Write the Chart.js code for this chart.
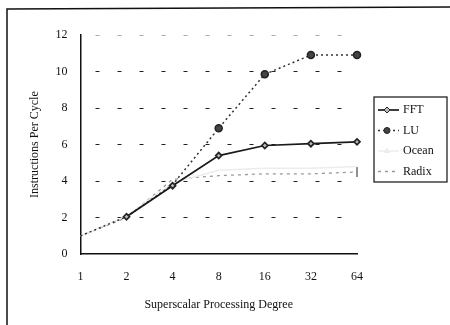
<!DOCTYPE html>
<html>
<head>
<meta charset="utf-8">
<script src="https://cdn.jsdelivr.net/npm/chart.js@4.4.1/dist/chart.umd.min.js"></script>
<style>
  html, body { margin: 0; padding: 0; background: #fff; }
  #wrap { width: 450px; height: 325px; position: relative; }
</style>
</head>
<body>
<div id="wrap"><canvas id="ipcChart"></canvas></div>
<script>
// values
const degrees = ["1", "2", "4", "8", "16", "32", "64"];
const fftIpc = [null, 2.05, 3.75, 5.4, 5.95, 6.05, 6.15];
const luIpc = [1, 2.05, 3.8, 6.9, 9.85, 10.9, 10.9];
const oceanIpc = [1, 2.1, 3.9, 4.6, 4.7, 4.7, 4.8];
const radixIpc = [1, 2, 4.1, 4.3, 4.4, 4.4, 4.5];
const yTicks = [0, 2, 4, 6, 8, 10, 12];

const serif = "'Liberation Serif', 'DejaVu Serif', serif";
const ink = "#111";

// scanned frame: only the top and left edges show
const framePlugin = {
  id: "frame",
  beforeDraw(chart) {
    const ctx = chart.ctx;
    ctx.save();
    ctx.fillStyle = "#fff";
    ctx.fillRect(0, 0, chart.width, chart.height);
    ctx.strokeStyle = "#111";
    ctx.lineWidth = 1.5;
    ctx.beginPath();
    ctx.moveTo(7, chart.height);
    ctx.lineTo(7, 9);
    ctx.lineTo(chart.width, 7);
    ctx.stroke();
    ctx.restore();
  }
};

// boxed legend to the right of the plot, line sample + marker
const boxLegendPlugin = {
  id: "boxLegend",
  afterDraw(chart) {
    const ctx = chart.ctx;
    const area = chart.chartArea;
    const left = area.right + 17;
    const top = 97;
    const w = 73, h = 85;
    ctx.save();
    ctx.strokeStyle = "#111";
    ctx.lineWidth = 1.2;
    ctx.strokeRect(left, top, w, h);
    ctx.font = "12px " + serif;
    ctx.textBaseline = "middle";
    chart.data.datasets.forEach((ds, i) => {
      const y = top + 13 + i * 20.5;
      ctx.strokeStyle = ds.borderColor;
      ctx.lineWidth = ds.borderWidth;
      ctx.setLineDash(ds.borderDash || []);
      ctx.beginPath();
      ctx.moveTo(left + 4, y);
      ctx.lineTo(left + 25, y);
      ctx.stroke();
      ctx.setLineDash([]);
      if (ds.label !== "Radix") {
        ctx.fillStyle = ds.pointBackgroundColor;
        ctx.strokeStyle = ds.pointBorderColor;
        ctx.lineWidth = 1;
        Chart.helpers.drawPoint(ctx, { pointStyle: ds.pointStyle, radius: 3, borderWidth: 1 }, left + 13, y);
      }
      ctx.fillStyle = ink;
      ctx.fillText(ds.label, left + 29, y);
    });
    ctx.restore();
  }
};

new Chart(document.getElementById("ipcChart"), {
  type: "line",
  data: {
    labels: degrees,
    datasets: [
      {
        label: "FFT",
        data: fftIpc,
        borderColor: "#1a1a1a",
        borderWidth: 1.7,
        pointStyle: "rectRot",
        pointRadius: 3,
        pointBackgroundColor: "#bbb",
        pointBorderColor: "#222",
        tension: 0
      },
      {
        label: "LU",
        data: luIpc,
        borderColor: "#333",
        borderWidth: 1.5,
        borderDash: [2, 3],
        pointStyle: "circle",
        pointRadius: [0, 0, 0, 3.5, 3.5, 3.5, 3.5],
        pointBackgroundColor: "#444",
        pointBorderColor: "#222",
        tension: 0
      },
      {
        label: "Ocean",
        data: oceanIpc,
        borderColor: "#ececec",
        borderWidth: 1.5,
        pointStyle: "triangle",
        pointRadius: 0,
        pointBackgroundColor: "#ececec",
        pointBorderColor: "#ececec",
        tension: 0
      },
      {
        label: "Radix",
        data: radixIpc,
        borderColor: "#999",
        borderWidth: 1.3,
        borderDash: [3, 4],
        pointStyle: "line",
        pointRotation: 90,
        pointRadius: [0, 0, 0, 0, 0, 0, 5],
        pointBackgroundColor: "#777",
        pointBorderColor: "#555",
        tension: 0
      }
    ]
  },
  options: {
    responsive: true,
    maintainAspectRatio: false,
    animation: false,
    layout: { padding: { top: 35, left: 26, right: 93, bottom: 9 } },
    plugins: {
      legend: { display: false },
      tooltip: { enabled: false }
    },
    scales: {
      x: {
        offset: false,
        grid: { display: false },
        border: { display: true, color: "#111", width: 1.5 },
        ticks: { color: ink, font: { family: serif, size: 12 }, padding: 7 },
        title: {
          display: true,
          text: "Superscalar Processing Degree",
          color: ink,
          font: { family: serif, size: 12 },
          padding: { top: 7 }
        }
      },
      y: {
        min: 0,
        max: 12,
        afterBuildTicks(axis) {
          axis.ticks = yTicks.map((v) => ({ value: v }));
        },
        grid: {
          color: (c) => (c.tick.value === 0 ? "rgba(0,0,0,0)" : c.tick.value === 12 ? "#aaa" : "#222"),
          lineWidth: 1,
          drawTicks: false
        },
        border: { display: true, color: "#111", width: 1.5, dash: [4, 18], dashOffset: -14 },
        ticks: { color: ink, font: { family: serif, size: 12 }, padding: 13 },
        title: {
          display: true,
          text: "Instructions Per Cycle",
          color: ink,
          font: { family: serif, size: 12 },
          padding: { top: 2, bottom: 0 }
        }
      }
    }
  },
  plugins: [framePlugin, boxLegendPlugin]
});
</script>
</body>
</html>
